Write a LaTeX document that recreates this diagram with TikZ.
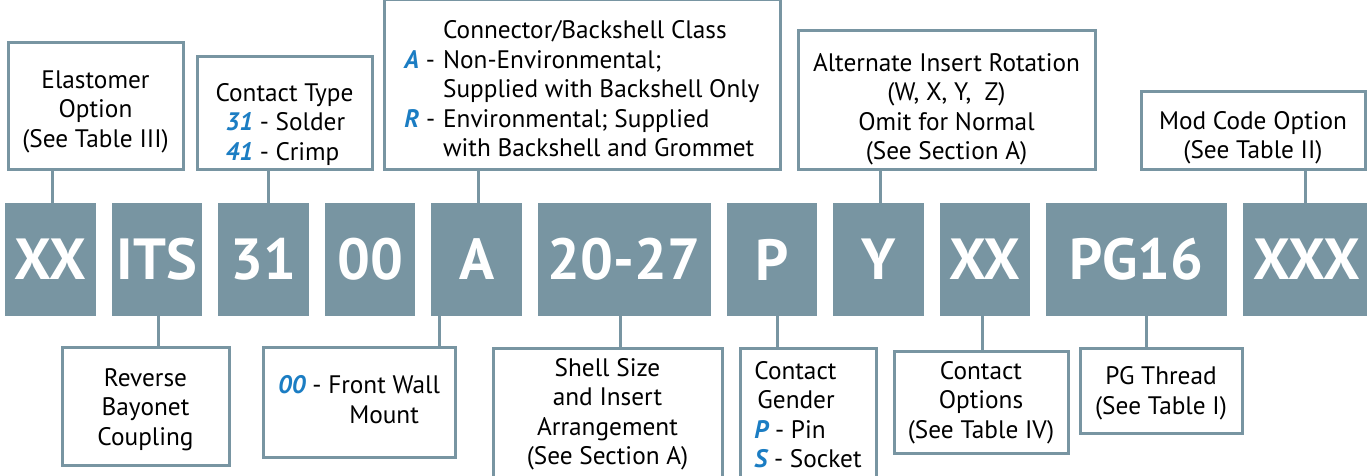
\documentclass[tikz,border=0pt]{standalone}
\usepackage{fontspec}
\setmainfont{PT Sans}
\usetikzlibrary{positioning}
\definecolor{cslate}{HTML}{7895A2}
\definecolor{ckey}{HTML}{1B7DC3}
\newcommand{\keyl}[1]{\textcolor{ckey}{\bfseries\itshape #1}}
\newcommand{\headroom}[1]{\rule{0pt}{#1pt}}
\tikzset{
  code/.style={fill=cslate, text=white, minimum height=113pt, minimum width=90.7pt, inner sep=0pt,
    font=\fontsize{58}{58}\selectfont\bfseries},
  infobox/.style={draw=cslate, line width=3pt, fill=white, align=center, inner sep=4pt,
    font=\fontsize{25.3}{29.5}\selectfont},
  link/.style={draw=cslate, line width=3pt},
}

\begin{document}
\begin{tikzpicture}[x=1pt, y=-1pt]
  \useasboundingbox (0,0) rectangle (1367,476);
  \clip (0,0) rectangle (1367,476);
  % part number fields
  \node[code, anchor=west] (c1) at (5,259.5) {XX};
  \node[code, right=15.4pt of c1] (c2) {ITS};
  \node[code, right=15.4pt of c2] (c3) {31};
  \node[code, right=15.4pt of c3] (c4) {00};
  \node[code, right=15.4pt of c4] (c5) {A};
  \node[code, right=15.4pt of c5, minimum width=173pt] (c6) {20-27};
  \node[code, right=15.4pt of c6] (c7) {P};
  \node[code, right=15.4pt of c7] (c8) {Y};
  \node[code, right=15.4pt of c8] (c9) {XX};
  \node[code, right=15.4pt of c9, minimum width=181pt] (c10) {PG16};
  \node[code, right=15.4pt of c10, minimum width=128pt] (c11) {XXX};
  % upper notes
  \node[infobox, anchor=south, minimum width=175pt, minimum height=127pt] (t1) at (95.5,171)
    {\headroom{29}Elastomer\\Option\\(See Table III)};
  \node[infobox, anchor=south, minimum width=175pt, minimum height=108pt, align=left] (t2) at (284.5,171)
    {\headroom{41}Contact Type\\\hspace*{10pt}\keyl{31} - Solder\\\hspace*{10pt}\keyl{41} - Crimp};
  \node[infobox, anchor=south, minimum width=396pt, minimum height=166pt] (t3) at (582,171)
    {\begin{tabular}{@{}l@{\hspace{8pt}}l@{}}
       \headroom{35}& Connector/Backshell Class\\
     \keyl{A} - & Non-Environmental;\\
       & Supplied with Backshell Only\\
     \keyl{R} - & Environmental; Supplied\\
       & with Backshell and Grommet
     \end{tabular}};
  \node[infobox, anchor=south, minimum width=297pt, minimum height=132pt] (t4) at (946.5,171)
    {\headroom{37}Alternate Insert Rotation\\(W, X, Y, \ Z)\\Omit for Normal\\(See Section A)};
  \node[infobox, anchor=south, minimum width=224pt, minimum height=78pt] (t5) at (1253,171)
    {\headroom{33}Mod Code Option\\(See Table II)};
  % lower notes
  \node[infobox, anchor=north, minimum width=167pt, minimum height=118pt] (b1) at (145.5,346)
    {\headroom{24}Reverse\\Bayonet\\Coupling};
  \node[infobox, anchor=north, minimum width=192pt, minimum height=110pt] (b2) at (359,346)
    {\begin{tabular}{@{}l@{ }c@{}}
     \keyl{00} - & Front Wall\\
       & Mount
     \end{tabular}};
  \node[infobox, anchor=north, minimum width=229pt, minimum height=132pt] (b3) at (607.5,347)
    {Shell Size\\and Insert\\Arrangement\\(See Section A)};
  \node[infobox, anchor=north, minimum width=136pt, minimum height=132pt, align=left] (b4) at (808,347)
    {Contact\\\hspace*{3pt}Gender\\\keyl{P} - Pin\\\keyl{S} - Socket};
  \node[infobox, anchor=north, minimum width=174pt, minimum height=102pt] (b5) at (981,350)
    {Contact\\Options\\(See Table IV)};
  \node[infobox, anchor=north, minimum width=162pt, minimum height=85pt] (b6) at (1161,347)
    {\headroom{23}PG Thread\\(See Table I)};
  % leaders
  \foreach \c/\t/\dx in {c1/t1/1.5, c3/t2/4.5, c5/t3/1.5, c8/t4/2.5, c11/t5/-1}
    \draw[link] ([xshift=\dx pt]\c.north) -- ([xshift=\dx pt]\c.north |- \t.south);
  \foreach \c/\b/\dx in {c2/b1/1, c5/b2/-37.5, c6/b3/-3.5, c7/b4/6, c9/b5/-2.5, c10/b6/9.5}
    \draw[link] ([xshift=\dx pt]\c.south) -- ([xshift=\dx pt]\c.south |- \b.north);
\end{tikzpicture}
\end{document}
